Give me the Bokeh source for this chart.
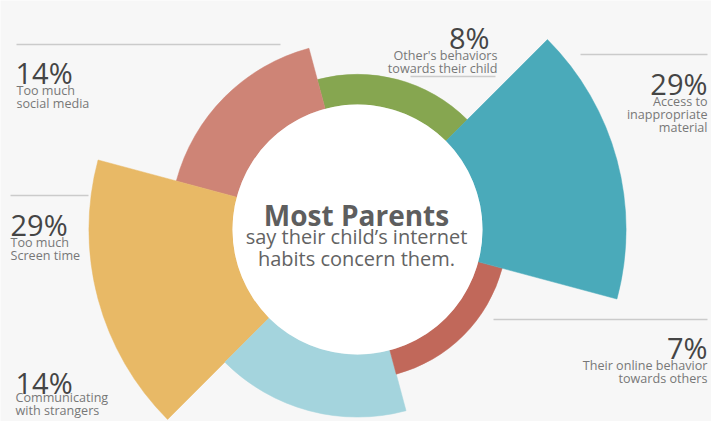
import numpy as np
from bokeh.plotting import figure
from bokeh.models import Range1d, ColumnDataSource
from bokeh.core.properties import value
from bokeh.embed import file_html
from bokeh.resources import INLINE

# ---- data ----
categories = ["Other's behaviors towards their child", "Too much social media",
              "Too much Screen time", "Communicating with strangers",
              "Their online behavior towards others", "Access to inappropriate material"]
values = [8, 14, 29, 14, 7, 29]
pct_labels = ["8%", "14%", "29%", "14%", "7%", "29%"]
desc_lines = [["Other's behaviors", "towards their child"],
              ["Too much", "social media"],
              ["Too much", "Screen time"],
              ["Communicating", "with strangers"],
              ["Their online behavior", "towards others"],
              ["Access to", "inappropriate", "material"]]
colors = ["#86A650", "#CE8476", "#E8B966", "#A4D4DD", "#C1685A", "#4AAABA"]

title_lines = ["Most Parents", "say their child\u2019s internet", "habits concern them."]

# ---- layout (image pixel coords, y measured from top) ----
W, H = 711, 421
def Y(img_y):
    return H - img_y

CX, CY = 357, Y(229)
R_IN = 125
def radius_scale(v):
    return 112 + 5.4 * v

# label anchors: (x, pct baseline, align, desc x, first desc baseline)
label_pos = [
    (489, 37, "right", 497, 55),
    (15, 72, "left", 16, 90),
    (10, 224, "left", 10, 242),
    (15, 382, "left", 15, 397),
    (707, 347, "right", 707, 365),
    (707, 83, "right", 707, 101),
]
rules = [(410, 495, 76), (16, 280, 44), (10, 88, 195), None, (493, 707, 319), (580, 707, 54)]

p = figure(width=W, height=H, x_range=Range1d(0, W), y_range=Range1d(0, H),
           output_backend="svg", toolbar_location=None, x_axis_type=None, y_axis_type=None,
           min_border=0, background_fill_color="#F7F7F7", border_fill_color="#F7F7F7")
p.grid.visible = False
p.outline_line_color = None

n = len(values)
step = 2 * np.pi / n
start = np.deg2rad(45) + step * np.arange(n)
src = ColumnDataSource(dict(
    x=[CX] * n, y=[CY] * n,
    start=start, end=start + step,
    outer=[radius_scale(v) for v in values],
    color=colors, cat=categories, val=values))
p.annular_wedge(x="x", y="y", inner_radius=R_IN, outer_radius="outer",
                start_angle="start", end_angle="end", fill_color="color",
                line_color="color", line_width=0.5, source=src)
p.circle(x=[CX], y=[CY], radius=R_IN, fill_color="#FFFFFF", line_color=None)

# rules
for r in rules:
    if r is None:
        continue
    p.segment(x0=[r[0]], x1=[r[1]], y0=[Y(r[2])], y1=[Y(r[2])],
              line_color="#CBCBCB", line_width=1.6)

# labels
for i in range(n):
    x, by, align, dx, dby = label_pos[i]
    p.text(x=[x], y=[Y(by)], text=[pct_labels[i]], text_align=align,
           text_baseline="alphabetic", text_font=value("Open Sans"),
           text_font_size="29px", text_color="#454545")
    for j, line in enumerate(desc_lines[i]):
        p.text(x=[dx], y=[Y(dby + 13 * j)], text=[line], text_align=align,
               text_baseline="alphabetic", text_font=value("Open Sans"),
               text_font_size="12.6px", text_color="#777777")

# center title
p.text(x=[356], y=[Y(214)], text=[title_lines[0]], text_align="center",
       text_baseline="alphabetic", text_font=value("Open Sans"), text_font_style="bold",
       text_font_size="28px", text_color="#5E5E5E")
p.text(x=[356, 356], y=[Y(236), Y(258)], text=title_lines[1:], text_align="center",
       text_baseline="alphabetic", text_font=value("Open Sans"),
       text_font_size="20px", text_color="#636363")

open("out.html", "w").write(file_html(p, INLINE))
